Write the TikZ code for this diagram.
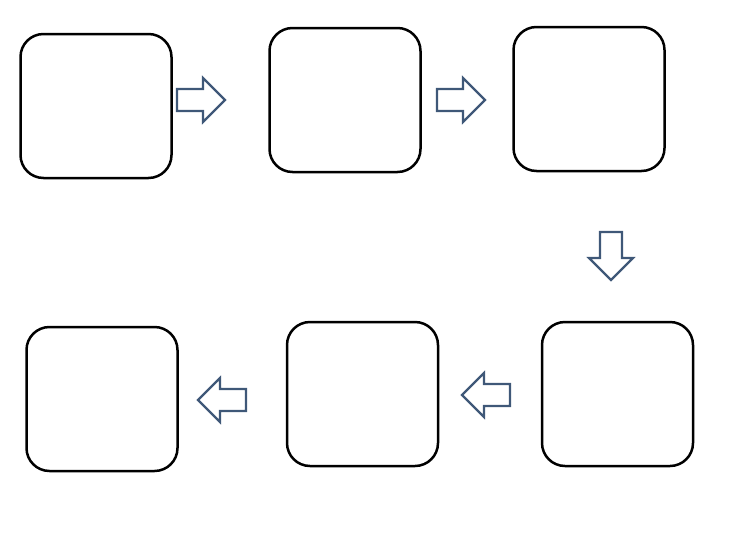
\documentclass[tikz,border=0pt]{standalone}
\definecolor{arrowblue}{HTML}{3F5878}
\begin{document}
\begin{tikzpicture}
[x=1pt,y=-1pt,%
  boxdecorate/.style={shape=rectangle,rounded corners=23pt,draw,line width=2.5pt,
    minimum width=151pt,minimum height=144pt,inner sep=0pt},%
  blockarrow/.pic={\draw[arrowblue,line width=2.2pt,line join=miter]
    (-24,-11) -- (2,-11) -- (2,-22) -- (24,0) -- (2,22) -- (2,11) -- (-24,11) -- cycle;}]
\useasboundingbox (0,0) rectangle (736,552);
%% boxes
\foreach \nodename/\x/\y in {
  box1/96/106, box2/345/100, box3/589/99,
  box4/617.5/394, box5/362.5/394, box6/102/399}
{
  \node (\nodename) at (\x,\y) [boxdecorate] {};
}
%% block arrows
\foreach \arrowname/\x/\y/\angle in {
  arrow1/201/100/0, arrow2/461/100/0, arrow3/611/256/-90,
  arrow4/486/395/180, arrow5/222/400/180}
{
  \pic (\arrowname) at (\x,\y) [rotate=\angle] {blockarrow};
}
\end{tikzpicture}
\end{document}
